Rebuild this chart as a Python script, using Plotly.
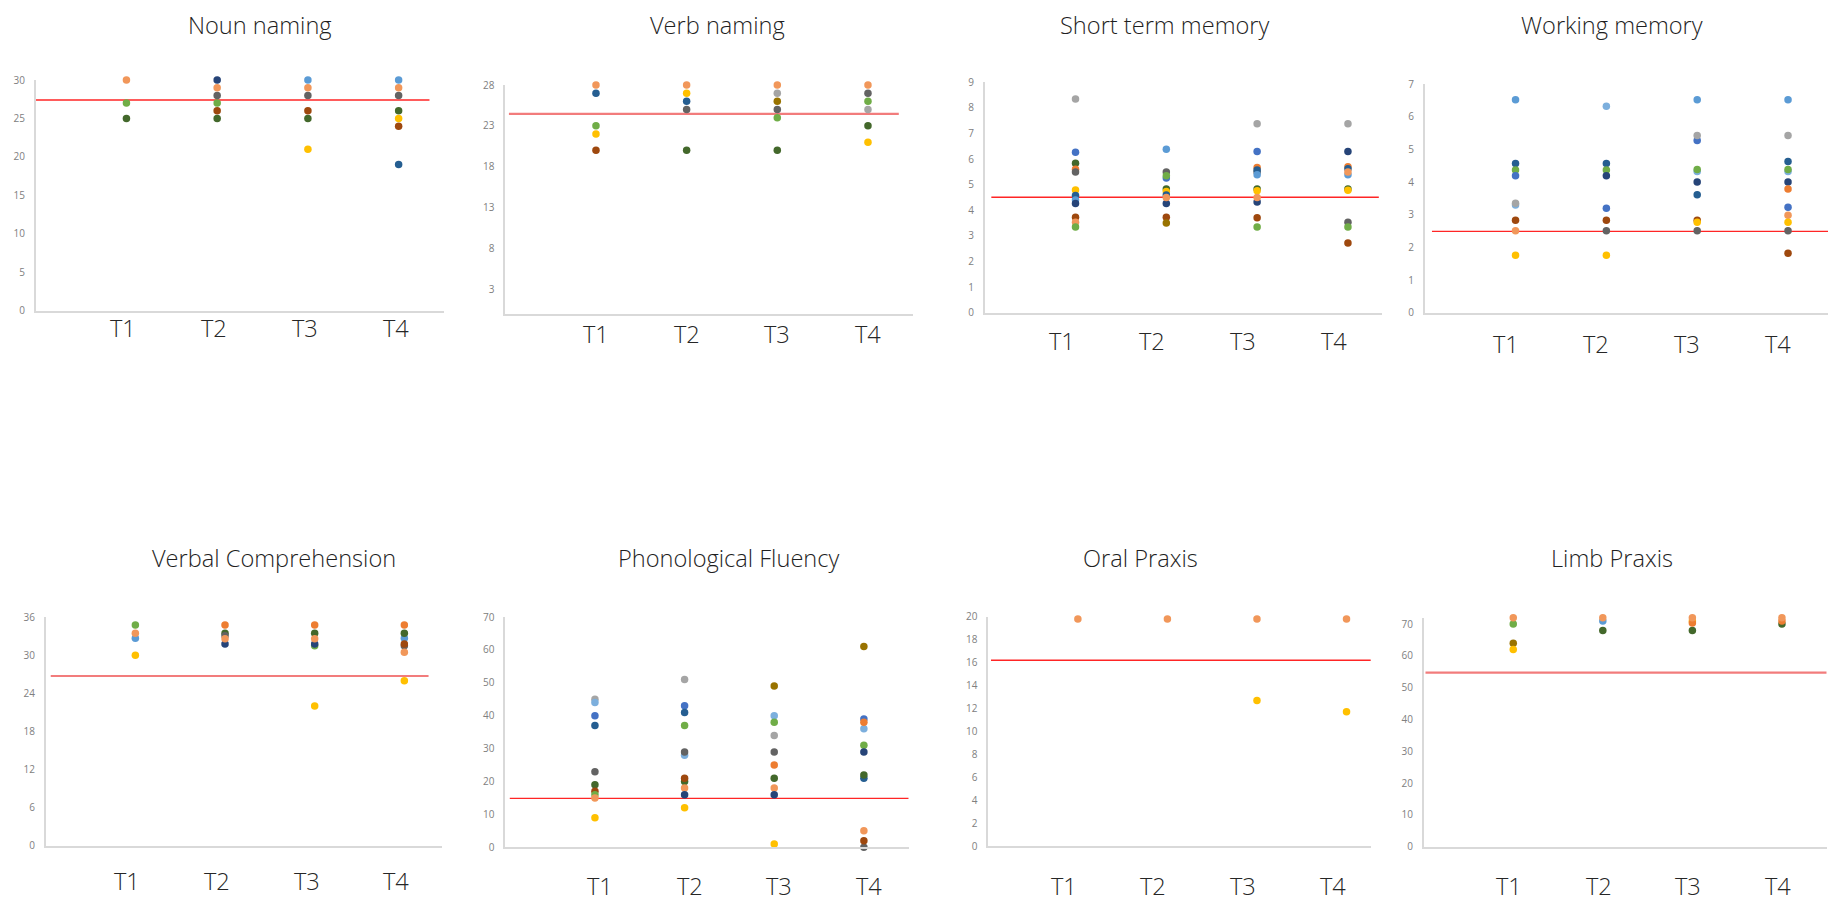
import plotly.graph_objects as go

# ---------------- data ----------------
times = ["T1", "T2", "T3", "T4"]
xpos = [1, 2, 3, 4]

colors = {
    "lblue": "#5B9BD5", "orange": "#ED7D31", "gray": "#A5A5A5", "gold": "#FFC000",
    "blue": "#4472C4", "green": "#70AD47", "dblue": "#255E91", "brown": "#9E480E",
    "dgray": "#636363", "olive": "#997300", "navy": "#264478", "dgreen": "#43682B",
    "lblue2": "#7CAFDD", "salmon": "#F1975A",
}

noun_naming = {
    "green": [27, 27, None, None], "dgreen": [25, 25, 25, 26], "navy": [None, 30, None, None],
    "dgray": [None, 28, 28, 28], "brown": [None, 26, 26, 24], "lblue": [None, None, 30, 30],
    "gold": [None, None, 21, 25], "dblue": [None, None, None, 19], "salmon": [30, 29, 29, 29],
}
verb_naming = {
    "dblue": [27, 26, None, None], "green": [23, None, 24, 26], "gold": [22, 27, None, 21],
    "brown": [20, None, None, None], "dgray": [None, 25, 25, 27], "dgreen": [None, 20, 20, 23],
    "gray": [None, None, 27, 25], "olive": [None, None, 26, None], "salmon": [28, 28, 28, 28],
}
short_term_memory = {
    "gray": [8.35, None, 7.38, 7.38], "blue": [6.27, 5.26, 6.3, None], "dgreen": [5.84, 4.83, 4.83, 4.83],
    "orange": [5.6, None, 5.67, 5.7], "dgray": [5.5, 5.5, 5.5, 3.53], "gold": [4.79, 4.73, 4.76, 4.78],
    "dblue": [4.58, 4.6, 5.57, 5.62], "lblue": [4.4, 6.38, 5.39, 5.39], "navy": [4.27, 4.27, 4.32, 6.3],
    "brown": [3.73, 3.73, 3.71, 2.72], "salmon": [3.53, 4.5, 4.5, 5.5], "green": [3.35, 5.35, 3.35, 3.35],
    "olive": [None, 3.5, None, None],
}
working_memory = {
    "lblue": [6.52, None, 6.52, 6.52], "lblue2": [3.3, 6.32, 4.32, 4.32], "dblue": [4.57, 4.57, 3.61, 4.63],
    "green": [4.37, 4.37, 4.38, 4.38], "blue": [4.19, 3.2, 5.27, 3.23], "navy": [None, 4.19, 4.0, 4.0],
    "gray": [3.35, None, 5.42, 5.42], "brown": [2.83, 2.83, 2.83, 1.82], "salmon": [2.51, None, None, 2.98],
    "dgray": [None, 2.51, 2.51, 2.51], "gold": [1.76, 1.76, 2.77, 2.77], "orange": [None, None, None, 3.79],
}
verbal_comprehension = {
    "green": [34.8, None, 31.5, None], "lblue": [32.7, None, None, 32.7], "gold": [30.0, None, 22.0, 26.0],
    "orange": [None, 34.8, 34.8, 34.8], "dgreen": [None, 33.5, 33.5, 33.5], "dgray": [None, 33.1, None, 31.5],
    "navy": [None, 31.8, 31.8, None], "brown": [None, None, None, 31.8], "salmon": [33.5, 32.6, 32.6, 30.5],
}
phonological_fluency = {
    "gray": [45, 51, 34, None], "lblue2": [44, 28, 40, 36], "blue": [40, 43, None, 39],
    "dblue": [37, 41, None, 21], "dgray": [23, 29, 29, 0], "dgreen": [19, 20, 21, 22],
    "brown": [17, 21, None, 2], "green": [16, 37, 38, 31], "salmon": [15, 18, 18, 5],
    "gold": [9, 12, 1, None], "navy": [None, 16, 16, 29], "olive": [None, None, 49, 61],
    "orange": [None, None, 25, 38],
}
oral_praxis = {
    "gold": [None, None, 12.7, 11.7], "salmon": [19.8, 19.8, 19.8, 19.8],
}
limb_praxis = {
    "green": [70, None, None, None], "olive": [64, None, None, None], "gold": [62, None, 71, None],
    "lblue": [None, 71, None, None], "dgreen": [None, 68, 68, 70], "orange": [None, None, 70.3, 71],
    "salmon": [72, 72, 72, 72],
}

titles = ["Noun naming", "Verb naming", "Short term memory", "Working memory",
          "Verbal Comprehension", "Phonological Fluency", "Oral Praxis", "Limb Praxis"]
panels = [noun_naming, verb_naming, short_term_memory, working_memory,
          verbal_comprehension, phonological_fluency, oral_praxis, limb_praxis]
cutoffs = [27.4, 24.45, 4.51, 2.49, 26.75, 14.9, 16.2, 54.7]
y_ranges = [[0, 30], [0, 28], [0, 9], [0, 7], [0, 36], [0, 70], [0, 20], [0, 72]]
y_tickvals = [list(range(0, 31, 5)), list(range(3, 29, 5)), list(range(0, 10)), list(range(0, 8)),
              list(range(0, 37, 6)), list(range(0, 71, 10)), list(range(0, 21, 2)), list(range(0, 71, 10))]

# ---------------- layout (pixel geometry, in page pixels) ----------------
PAGE_OFF = 8            # default body margin of the html page
FW, FH = 1820, 895      # figure size so that the page is exactly 1836 x 911


def fx(px):
    return min(1.0, max(0.0, (px - PAGE_OFF) / FW))


def fy(py):
    return min(1.0, max(0.0, 1 - (py - PAGE_OFF) / FH))


boxes = [(35.7, 444, 80, 310.7), (505.3, 913.3, 85, 313.5), (984.7, 1382, 82.3, 312.7),
         (1424.7, 1828, 84, 312.7), (45.7, 442, 617.3, 845.7), (505.3, 908.7, 617, 847.3),
         (988.3, 1370.7, 616.7, 846), (1423.7, 1826.7, 617.7, 846.7)]
x_max = [4.5, 4.5, 4.375, 4.44, 4.42, 4.5, 4.27, 4.5]
title_pos = [(260, 25), (717, 25), (1164.7, 25), (1611.7, 25),
             (274, 557.5), (728.3, 557.5), (1140.7, 557.5), (1611.7, 557.5)]
lab_y = [328.1, 334.1, 340.8, 343.5, 880.8, 885.5, 885.5, 885.5]
lab_shift = [-3, 0, -14, -10, -8, 5, -14, -4]
cut_x = [(0.0, 4.34), (0.04, 4.34), (0.073, 4.34), (0.08, 4.5),
         (0.056, 4.27), (0.05, 4.5), (0.03, 4.45), (0.02, 4.5)]
cut_style = [("#FF2525", 1.3), ("#F27C7C", 2.2), ("#FF2525", 1.3), ("#FF2525", 1.3),
             ("#F27C7C", 2.2), ("#FF2525", 1.3), ("#FF2525", 1.3), ("#F27C7C", 2.2)]

AXIS_COL = "#D9D9D9"
TICK_COL = "#808080"
FONT = "Open Sans"
BIG = 23.6

fig = go.Figure()
shapes = []
annotations = []
layout = {}

for i, data in enumerate(panels):
    n = i + 1
    xa = "x" if n == 1 else f"x{n}"
    ya = "y" if n == 1 else f"y{n}"
    for key, vals in data.items():
        xs = [x for x, v in zip(xpos, vals) if v is not None]
        ys = [v for v in vals if v is not None]
        fig.add_trace(go.Scatter(x=xs, y=ys, mode="markers", xaxis=xa, yaxis=ya,
                                 marker=dict(size=7.5, color=colors[key]),
                                 showlegend=False, hoverinfo="y", cliponaxis=False))
    l, r, t, b = boxes[i]
    layout["xaxis" if n == 1 else f"xaxis{n}"] = dict(
        domain=[fx(l), fx(r)], anchor=ya, range=[0, x_max[i]],
        tickvals=xpos, showticklabels=False, showgrid=False, zeroline=False,
        showline=True, linecolor=AXIS_COL, linewidth=1.5, ticks="", automargin=False,
    )
    layout["yaxis" if n == 1 else f"yaxis{n}"] = dict(
        domain=[fy(b), fy(t)], anchor=xa, range=y_ranges[i],
        tickvals=y_tickvals[i], showgrid=False, zeroline=False,
        showline=True, linecolor=AXIS_COL, linewidth=1.5, ticks="", automargin=False,
        tickfont=dict(family=FONT, size=10, color=TICK_COL), ticklabelstandoff=7,
    )
    c, w = cut_style[i]
    shapes.append(dict(type="line", xref=xa, yref=ya, x0=cut_x[i][0], x1=cut_x[i][1],
                       y0=cutoffs[i], y1=cutoffs[i], line=dict(color=c, width=w), layer="below"))
    cx, cy = title_pos[i]
    annotations.append(dict(text=titles[i], xref="paper", yref="paper", x=fx(cx), y=fy(cy),
                            xanchor="center", yanchor="middle", showarrow=False,
                            font=dict(family=FONT, size=BIG, color="#1F1F1F", weight=300)))
    for xv, lab in zip(xpos, times):
        annotations.append(dict(text=lab, xref=xa, yref="paper", x=xv, y=fy(lab_y[i]),
                                xshift=lab_shift[i], xanchor="center", yanchor="middle",
                                showarrow=False,
                                font=dict(family=FONT, size=BIG, color="#262626", weight=300)))

fig.update_layout(width=FW, height=FH,
                  margin=dict(l=0, r=0, t=0, b=0, pad=0, autoexpand=False),
                  paper_bgcolor="white", plot_bgcolor="white",
                  shapes=shapes, annotations=annotations, **layout)

fig.write_html("out.html", config={"displayModeBar": False})
